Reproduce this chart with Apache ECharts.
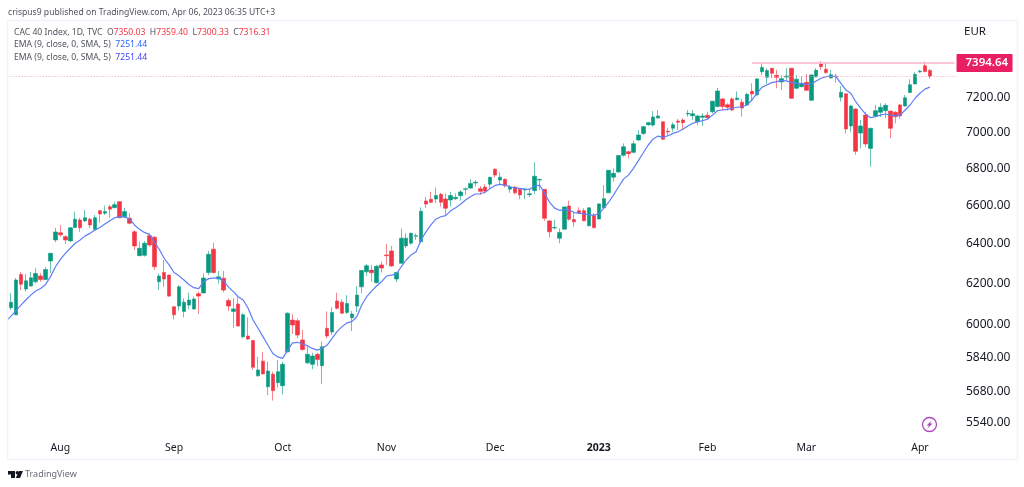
<!DOCTYPE html>
<html>
<head>
<meta charset="utf-8">
<title>CAC 40 Index, 1D</title>
<script src="https://cdn.jsdelivr.net/npm/echarts@6/dist/echarts.min.js"></script>
<style>
  html, body { margin: 0; padding: 0; background: #fff; }
  #chart { width: 1024px; height: 487px; }
</style>
</head>
<body>
<div id="chart"></div>
<script>
// daily candles, the first one is cut by the left edge
var opens = [5962,
  6070,6035,6235,6162,6177,6198,6227,6210,6303,6411,
  6448,6428,6406,6476,6515,6510,6519,6466,6564,6551,
  6585,6580,6612,6532,6524,6453,6330,6332,6433,6425,
  6198,6245,6232,6075,6078,6052,6083,6064,6139,6143,
  6245,6363,6212,6216,6105,6052,6088,5930,5933,5911,
  5746,5814,5695,5753,5714,5700,5858,6010,6007,5914,
  5806,5799,5846,5793,5970,5952,6103,6097,6047,6021,
  6078,6173,6248,6257,6194,6283,6334,6354,6212,6291,
  6380,6394,6430,6402,6616,6625,6626,6651,6626,6621,
  6628,6644,6678,6685,6712,6681,6690,6706,6787,6728,
  6732,6679,6690,6679,6674,6649,6672,6728,6678,6510,
  6473,6420,6467,6589,6517,6564,6564,6485,6538,6520,
  6580,6659,6744,6772,6864,6884,6880,6949,6986,7035,
  7033,7073,7052,6998,7015,7056,7062,7096,7086,7052,
  7077,7089,7109,7139,7183,7150,7183,7179,7164,7148,
  7227,7206,7342,7309,7363,7321,7282,7311,7363,7245,
  7254,7280,7175,7312,7388,7357,7305,7316,7192,7213,
  7028,7125,6988,7090,6902,7085,7106,7115,7113,7106,
  7148,7142,7221,7270,7341,7378,7350.03];
var highs = [6050,
  6142,6217,6248,6237,6248,6267,6242,6272,6344,6474,
  6488,6436,6478,6559,6526,6568,6527,6541,6568,6591,
  6594,6612,6612,6577,6551,6462,6402,6406,6445,6431,
  6240,6308,6232,6075,6182,6116,6143,6124,6149,6240,
  6355,6397,6252,6252,6116,6116,6122,6043,6023,5911,
  5834,5858,5811,5765,5819,5811,6047,6039,6018,5962,
  5885,5853,5853,5906,6052,6072,6143,6111,6132,6054,
  6177,6257,6288,6283,6283,6300,6390,6380,6248,6471,
  6445,6450,6445,6582,6638,6665,6688,6659,6656,6665,
  6656,6674,6688,6733,6728,6696,6705,6746,6792,6770,
  6737,6701,6696,6683,6683,6683,6825,6732,6678,6515,
  6515,6471,6586,6617,6559,6582,6577,6582,6551,6604,
  6701,6783,6792,6866,6930,6888,6945,7005,7029,7052,
  7113,7119,7052,7018,7049,7068,7072,7119,7119,7090,
  7100,7109,7171,7247,7187,7158,7192,7227,7183,7216,
  7274,7304,7388,7363,7363,7353,7323,7363,7363,7323,
  7317,7329,7329,7363,7406,7397,7353,7331,7258,7213,
  7148,7128,7062,7109,7018,7148,7158,7158,7113,7113,
  7154,7206,7298,7339,7353,7402,7359.40];
var lows = [5955,
  6059,6035,6157,6149,6173,6192,6198,6207,6242,6399,
  6428,6390,6402,6473,6453,6506,6471,6462,6501,6541,
  6527,6577,6524,6524,6493,6359,6329,6325,6376,6257,
  6157,6173,6124,6013,6056,6023,6062,6059,6039,6140,
  6232,6240,6190,6146,6054,5972,5978,5922,5914,5773,
  5741,5753,5657,5632,5692,5660,5855,5943,5922,5863,
  5800,5776,5791,5708,5922,5938,6062,6039,6039,5957,
  6048,6140,6227,6198,6190,6245,6283,6274,6196,6291,
  6368,6387,6411,6394,6577,6604,6604,6586,6538,6586,
  6621,6617,6648,6681,6692,6648,6656,6683,6743,6701,
  6688,6659,6651,6625,6625,6638,6653,6674,6510,6423,
  6466,6394,6466,6511,6480,6547,6508,6480,6473,6519,
  6577,6658,6719,6767,6856,6847,6875,6943,6977,7028,
  7024,7072,6949,6971,6995,7005,7005,7081,7062,7033,
  7029,7066,7100,7135,7115,7115,7113,7175,7081,7144,
  7177,7202,7322,7270,7304,7245,7235,7294,7183,7239,
  7251,7229,7173,7309,7353,7329,7304,7279,7167,6986,
  6995,6866,6902,6908,6801,7079,7079,7073,6959,7043,
  7068,7139,7216,7269,7337,7339,7300.33];
var closes = [6045,
  6097,6207,6186,6203,6218,6240,6210,6260,6342,6452,
  6438,6411,6474,6519,6474,6527,6489,6527,6547,6559,
  6572,6596,6527,6559,6498,6380,6368,6394,6385,6274,
  6227,6212,6127,6035,6173,6097,6108,6113,6127,6217,
  6337,6245,6223,6157,6078,6064,5981,6036,5919,5785,
  5773,5754,5768,5677,5765,5799,6043,5986,5938,5869,
  5846,5838,5822,5882,5933,6047,6067,6043,6091,6039,
  6132,6255,6279,6243,6276,6267,6330,6278,6245,6420,
  6420,6445,6433,6561,6599,6609,6645,6609,6577,6645,
  6635,6664,6681,6710,6716,6667,6669,6743,6755,6744,
  6697,6690,6659,6648,6679,6654,6749,6732,6524,6453,
  6476,6450,6584,6519,6505,6551,6511,6579,6474,6600,
  6628,6781,6765,6862,6911,6873,6928,6977,7024,7047,
  7079,7085,6953,6994,7035,7049,7047,7100,7098,7085,
  7085,7075,7170,7229,7139,7135,7119,7188,7130,7210,
  7212,7300,7368,7349,7333,7309,7301,7317,7187,7298,
  7274,7233,7323,7351,7372,7337,7325,7313,7222,7011,
  7142,6886,7028,6927,7015,7115,7135,7146,7015,7081,
  7085,7190,7266,7327,7345,7343,7316.31];
var ema9 = [6005,
  6029,6056,6083,6108,6132,6152,6165,6185,6224,6274,
  6311,6342,6368,6394,6411,6432,6445,6462,6476,6494,
  6511,6527,6531,6531,6520,6489,6466,6450,6440,6402,
  6363,6317,6283,6245,6228,6207,6185,6169,6164,6198,
  6214,6217,6217,6203,6173,6149,6124,6108,6067,6010,
  5970,5930,5890,5850,5834,5827,5866,5900,5903,5895,
  5887,5874,5866,5874,5890,5922,5954,5978,5996,6002,
  6026,6083,6124,6152,6177,6198,6227,6232,6237,6274,
  6308,6334,6350,6411,6453,6489,6519,6532,6538,6563,
  6580,6598,6621,6638,6653,6654,6662,6683,6699,6705,
  6701,6692,6686,6683,6679,6678,6696,6701,6656,6610,
  6579,6566,6568,6568,6554,6551,6547,6541,6541,6547,
  6577,6610,6648,6692,6733,6755,6792,6834,6878,6921,
  6955,6971,6964,6973,6986,6995,7009,7028,7043,7052,
  7058,7066,7090,7115,7119,7123,7129,7135,7138,7148,
  7177,7216,7250,7264,7278,7284,7290,7288,7278,7274,
  7272,7268,7270,7288,7304,7313,7317,7313,7274,7235,
  7216,7167,7130,7096,7075,7081,7090,7096,7090,7086,
  7090,7119,7148,7187,7216,7240,7251.44];

var priceTicks = [5540, 5680, 5840, 6000, 6200, 6400, 6600, 6800, 7000, 7200];
var monthLabels = ['Aug', 'Sep', 'Oct', 'Nov', 'Dec', '2023', 'Feb', 'Mar', 'Apr'];
var monthStarts = [11, 34, 56, 77, 99, 120, 142, 162, 185];
var resistanceLevel = 7394.64;
var resistanceStart = 151;
var lastClose = 7316.31;
var categoryCount = 193;

var categories = [];
for (var i = 0; i < categoryCount; i++) categories.push('');
monthLabels.forEach(function (label, n) {
  categories[monthStarts[n]] = label;
});

var candles = opens.map(function (o, n) {
  return [o, closes[n], lows[n], highs[n]];
});

var UP = '#089981';
var DOWN = '#f23645';
var TEXT = '#131722';
var LEGEND = '#50535e';
var FONT = '"Noto Sans", sans-serif';
var HEADER_SIZE = 8.6;

var chart = echarts.init(document.getElementById('chart'));

var legendRich = {
  t: { color: LEGEND, fontFamily: FONT, fontSize: HEADER_SIZE },
  r: { color: DOWN, fontFamily: FONT, fontSize: HEADER_SIZE },
  b1: { color: '#2962ff', fontFamily: FONT, fontSize: HEADER_SIZE },
  b2: { color: '#3f3fff', fontFamily: FONT, fontSize: HEADER_SIZE }
};

function headerText(text, left, top) {
  return {
    left: left, top: top, padding: 0, text: text,
    textStyle: { fontFamily: FONT, fontSize: HEADER_SIZE, fontWeight: 'normal', color: LEGEND, rich: legendRich }
  };
}

chart.setOption({
  animation: false,
  backgroundColor: '#ffffff',
  title: [
    headerText('crispus9 published on TradingView.com, Apr 06, 2023 06:35 UTC+3', 8, 8),
    headerText('{t|CAC 40 Index, 1D, TVC  O}{r|7350.03}{t|  H}{r|7359.40}{t|  L}{r|7300.33}{t|  C}{r|7316.31}', 14, 28),
    headerText('{t|EMA (9, close, 0, SMA, 5)  }{b1|7251.44}', 14, 40.5),
    headerText('{t|EMA (9, close, 0, SMA, 5)  }{b2|7251.44}', 14, 53),
    { left: 964, top: 26, padding: 0, text: 'EUR', textStyle: { fontFamily: FONT, fontSize: 11.5, fontWeight: 'normal', color: TEXT } },
    { left: 25, top: 470, padding: 0, text: 'TradingView', textStyle: { fontFamily: FONT, fontSize: 9, fontWeight: 'normal', color: '#6a6d78' } }
  ],
  grid: { left: 3.6, top: 20, width: 953.4, height: 417, containLabel: false },
  xAxis: {
    type: 'category',
    data: categories,
    boundaryGap: true,
    axisLine: { show: false },
    axisTick: { show: false },
    splitLine: { show: false },
    axisLabel: {
      interval: 0,
      margin: 6,
      fontFamily: FONT,
      fontSize: 10.5,
      color: TEXT,
      formatter: function (v) { return v === '2023' ? '{y|2023}' : v; },
      rich: { y: { fontFamily: FONT, fontSize: 10.5, fontWeight: 'bold', color: TEXT } }
    }
  },
  yAxis: {
    type: 'log',
    logBase: 10,
    position: 'right',
    min: 5469,
    max: 7655,
    axisLine: { show: false },
    axisTick: { show: false },
    splitLine: { show: false },
    minorTick: { show: false },
    minorSplitLine: { show: false },
    axisLabel: {
      show: true,
      margin: 9,
      verticalAlign: 'top',
      lineHeight: 4,
      fontFamily: FONT,
      fontSize: 12,
      color: TEXT,
      customValues: priceTicks,
      formatter: function (v) { return Number(v).toFixed(2); }
    }
  },
  series: [
    {
      name: 'CAC 40 Index',
      type: 'candlestick',
      data: candles,
      barWidth: 4,
      itemStyle: {
        color: UP,
        color0: DOWN,
        borderColor: 'rgba(8,153,129,0.6)',
        borderColor0: 'rgba(242,54,69,0.6)',
        borderWidth: 1
      },
      markLine: {
        silent: true,
        symbol: 'none',
        animation: false,
        data: [
          [
            { xAxis: resistanceStart, yAxis: resistanceLevel, lineStyle: { color: '#f7b5c8', width: 1.5, type: 'solid' } },
            {
              xAxis: categoryCount - 1, yAxis: resistanceLevel,
              label: {
                show: true, position: 'end', distance: 2,
                formatter: resistanceLevel.toFixed(2),
                backgroundColor: '#e91e63', color: '#ffffff',
                fontFamily: FONT, fontSize: 11.5, fontWeight: 600,
                padding: [3, 5, 3, 9], width: 42, borderRadius: 1
              }
            }
          ],
          {
            yAxis: lastClose,
            lineStyle: { color: '#f9a8b0', width: 1, type: [1, 2] },
            label: { show: false }
          }
        ]
      }
    },
    {
      name: 'EMA (9, close, 0, SMA, 5)',
      type: 'line',
      data: ema9,
      showSymbol: false,
      smooth: false,
      lineStyle: { color: '#5d7ff5', width: 1.2 }
    }
  ],
  graphic: [
    { type: 'rect', z: 100, shape: { x: 0, y: 20, width: 7, height: 440 }, style: { fill: '#ffffff' } },
    { type: 'rect', z: 101, shape: { x: 7.5, y: 20.5, width: 1010, height: 439 }, style: { fill: 'none', stroke: '#f0f3fa', lineWidth: 1.5 } },
    { type: 'circle', z: 101, shape: { cx: 929.5, cy: 424.5, r: 7 }, style: { fill: 'none', stroke: '#ab47bc', lineWidth: 1.3 } },
    { type: 'polygon', z: 101, shape: { points: [[931.5, 420.5], [926.5, 425.5], [929, 425.5], [927.5, 428.5], [932.5, 423.5], [930, 423.5]] }, style: { fill: '#ab47bc' } },
    { type: 'polygon', z: 101, shape: { points: [[8, 471], [15, 471], [15, 478], [11, 478], [11, 474.5], [8, 474.5]] }, style: { fill: TEXT } },
    { type: 'circle', z: 101, shape: { cx: 17.3, cy: 472.7, r: 1.7 }, style: { fill: TEXT } },
    { type: 'polygon', z: 101, shape: { points: [[19, 471], [23, 471], [20, 478], [15.8, 478]] }, style: { fill: TEXT } }
  ]
});
</script>
</body>
</html>
